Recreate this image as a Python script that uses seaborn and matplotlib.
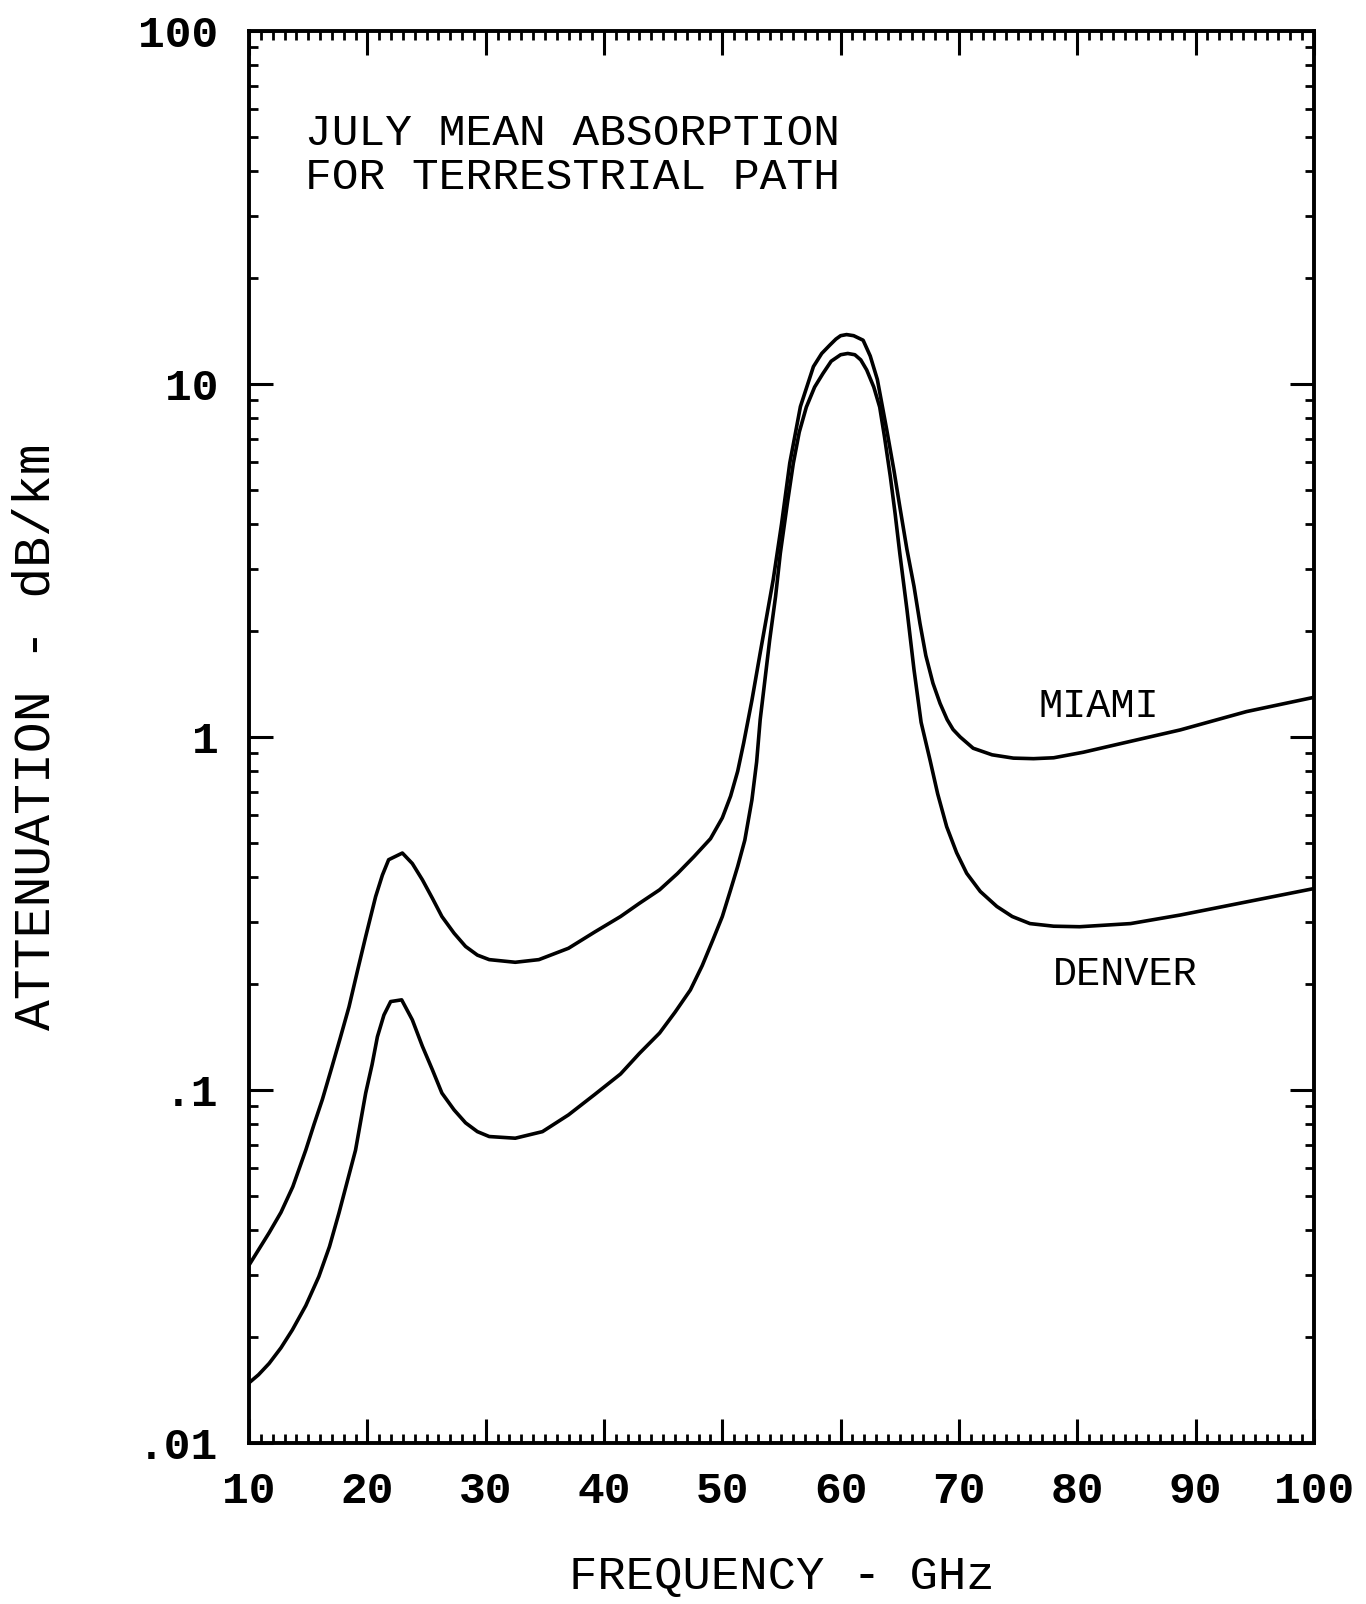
import numpy as np
import pandas as pd
import matplotlib
matplotlib.use("Agg")
import matplotlib.pyplot as plt
from matplotlib.ticker import MultipleLocator, LogLocator, NullFormatter
import seaborn as sns

# July mean absorption, terrestrial path (dB/km vs GHz)
freq_miami = [10.0, 11.7, 12.7, 13.7, 14.8, 15.5, 16.2, 17.0, 17.7, 18.45,
              19.2, 19.86, 20.7, 21.27, 21.8, 22.96, 23.8, 24.65, 25.5, 26.3,
              27.33, 28.3, 29.3, 30.3, 32.5, 34.5, 37.0, 39.2, 41.4, 43.0,
              44.7, 46.2, 47.6, 49.0, 50.0, 50.7, 51.3, 51.8, 52.5, 53.2,
              54.3, 55.0, 55.7, 56.6, 57.7, 58.4, 59.1, 59.6, 60.0, 60.5,
              61.1, 61.9, 62.5, 63.1, 63.9, 64.5, 65.0, 65.6, 66.2, 66.7,
              67.2, 67.8, 68.4, 69.0, 69.5, 70.1, 71.2, 72.8, 74.6, 76.3,
              78.0, 80.5, 83.1, 88.7, 94.3, 100.0]
atten_miami = [0.0319, 0.0394, 0.045, 0.0532, 0.0676, 0.080, 0.094, 0.116, 0.140, 0.172,
               0.220, 0.272, 0.353, 0.406, 0.449, 0.469, 0.438, 0.394, 0.349, 0.310,
               0.278, 0.255, 0.241, 0.234, 0.230, 0.234, 0.252, 0.280, 0.310, 0.338,
               0.369, 0.410, 0.458, 0.515, 0.590, 0.680, 0.800, 0.96, 1.27, 1.73,
               2.79, 4.0, 5.97, 8.63, 11.2, 12.2, 12.9, 13.4, 13.7, 13.8,
               13.7, 13.3, 12.0, 10.3, 7.4, 5.7, 4.49, 3.4, 2.67, 2.1,
               1.70, 1.42, 1.245, 1.12, 1.05, 1.0, 0.929, 0.890, 0.871, 0.868,
               0.873, 0.905, 0.948, 1.047, 1.18, 1.295]

freq_denver = [10.0, 10.8, 11.7, 12.7, 13.66, 14.8, 15.9, 16.8, 17.6, 18.3,
               19.0, 19.86, 20.4, 20.85, 21.4, 21.97, 22.9, 23.8, 24.65, 25.5,
               26.3, 27.33, 28.3, 29.3, 30.3, 32.5, 34.8, 37.0, 39.2, 41.4,
               43.0, 44.7, 46.0, 47.3, 48.3, 49.2, 50.0, 50.7, 51.3, 51.9,
               52.5, 52.9, 53.2, 53.6, 54.0, 54.5, 54.9, 55.5, 56.0, 56.5,
               57.1, 57.8, 58.5, 59.2, 60.0, 60.6, 61.2, 61.7, 62.2, 62.8,
               63.3, 63.7, 64.2, 64.6, 65.0, 65.6, 66.2, 66.8, 67.55, 68.2,
               68.96, 69.8, 70.65, 71.8, 73.2, 74.5, 76.0, 78.0, 80.2, 84.5,
               88.7, 94.3, 100.0]
atten_denver = [0.0148, 0.0156, 0.0168, 0.0186, 0.0209, 0.0245, 0.0296, 0.036, 0.0448, 0.055,
                0.0675, 0.098, 0.118, 0.1415, 0.163, 0.178, 0.180, 0.158, 0.133, 0.114,
                0.098, 0.0878, 0.0807, 0.0762, 0.0738, 0.0730, 0.0762, 0.0850, 0.097, 0.111,
                0.127, 0.145, 0.166, 0.192, 0.225, 0.266, 0.310, 0.369, 0.430, 0.510,
                0.663, 0.850, 1.12, 1.45, 1.88, 2.5, 3.31, 4.6, 5.96, 7.3,
                8.6, 9.8, 10.7, 11.6, 12.1, 12.2, 12.1, 11.7, 10.96, 9.8,
                8.6, 7.1, 5.46, 4.3, 3.31, 2.3, 1.55, 1.10, 0.861, 0.690,
                0.557, 0.470, 0.411, 0.365, 0.331, 0.310, 0.296, 0.291, 0.290, 0.296,
                0.313, 0.341, 0.372]

x_ticks = [10, 20, 30, 40, 50, 60, 70, 80, 90, 100]
x_tick_labels = ["10", "20", "30", "40", "50", "60", "70", "80", "90", "100"]
y_ticks = [0.01, 0.1, 1, 10, 100]
y_tick_labels = [".01", ".1", "1", "10", "100"]

sns.set_theme(style="white")
plt.rcParams["font.family"] = ["Liberation Mono", "DejaVu Sans Mono"]
plt.rcParams["text.color"] = "black"
plt.rcParams["axes.labelcolor"] = "black"
plt.rcParams["xtick.color"] = "black"
plt.rcParams["ytick.color"] = "black"

df = pd.concat([
    pd.DataFrame({"freq": freq_miami, "atten": atten_miami, "site": "MIAMI"}),
    pd.DataFrame({"freq": freq_denver, "atten": atten_denver, "site": "DENVER"}),
], ignore_index=True)

fig = plt.figure(figsize=(13.66, 16.04), dpi=100)
ax = fig.add_axes([0.1823, 0.1004, 0.7796, 0.8803])

sns.lineplot(data=df, x="freq", y="atten", hue="site",
             palette={"MIAMI": "black", "DENVER": "black"},
             estimator=None, sort=False, linewidth=2.6, legend=False, ax=ax)

ax.set_yscale("log")
ax.set_xlim(10, 100)
ax.set_ylim(0.01, 100)

ax.set_xticks(x_ticks, x_tick_labels)
ax.set_yticks(y_ticks, y_tick_labels)
ax.xaxis.set_minor_locator(MultipleLocator(1))
ax.yaxis.set_minor_locator(LogLocator(base=10, subs=np.arange(2, 10)))
ax.yaxis.set_minor_formatter(NullFormatter())

ax.tick_params(which="major", direction="in", length=17, width=2.2,
               top=True, right=True, bottom=True, left=True, labelsize=32)
ax.tick_params(which="minor", direction="in", length=6.5, width=2.0,
               top=True, right=True, bottom=True, left=True)
ax.tick_params(axis="x", which="major", pad=20)
ax.tick_params(axis="y", which="major", pad=22)
for lbl in ax.get_xticklabels() + ax.get_yticklabels():
    lbl.set_fontweight("bold")

for sp in ax.spines.values():
    sp.set_visible(True)
    sp.set_color("black")
    sp.set_linewidth(2.8)

ax.set_xlabel("FREQUENCY - GHz", fontsize=34, labelpad=31)
ax.set_ylabel("ATTENUATION - dB/km", fontsize=37, labelpad=56)

ax.text(0.0526, 0.919, "JULY MEAN ABSORPTION", transform=ax.transAxes,
        fontsize=32, ha="left", va="baseline")
ax.text(0.0526, 0.888, "FOR TERRESTRIAL PATH", transform=ax.transAxes,
        fontsize=32, ha="left", va="baseline")

ax.text(76.75, 1.14, "MIAMI", fontsize=29, ha="left", va="baseline")
ax.text(77.9, 0.198, "DENVER", fontsize=29, ha="left", va="baseline")

fig.savefig("out.png", dpi=100, facecolor="white")
